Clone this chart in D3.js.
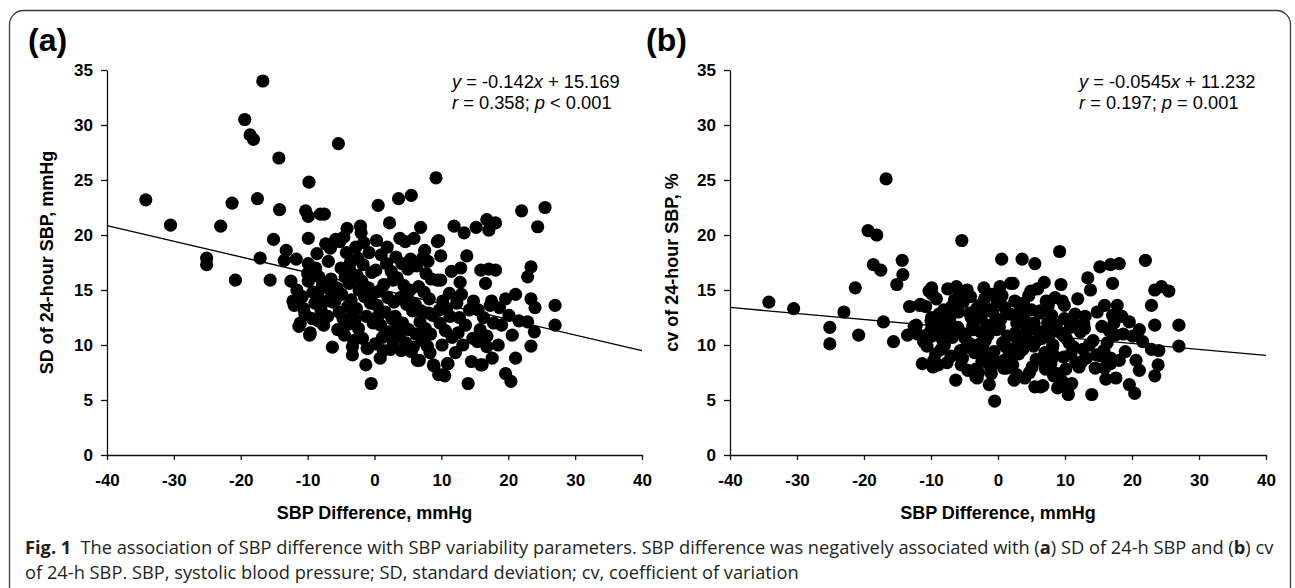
<!DOCTYPE html>
<html>
<head>
<meta charset="utf-8">
<script src="https://cdnjs.cloudflare.com/ajax/libs/d3/7.8.5/d3.min.js"></script>
<style>
  html, body { margin: 0; padding: 0; background: #fff; }
  svg { display: block; }
</style>
</head>
<body>
<svg id="chart" width="1295" height="588"></svg>
<script>
// shared x for both panels (same subjects)
var sbpDiff = [
  -34.2, -30.5, -25.1, -25.1, -23.0, -21.3, -20.8, -19.4, -18.6, -18.1, -17.5, -17.1, -16.7, -15.6, -15.1, -14.3, -14.2, -13.2, -13.5, -12.5, -11.7,
  -12.2, -11.6, -10.8, -10.6, -11.3, -11.1, -9.7, -10.3, -9.9, -9.8, -9.9, -9.9, -10.0, -9.9, -9.3, -9.6, -10.4, -9.2, -12.0, -8.6,
  -8.1, -7.5, -8.8, -8.3, -7.8, -8.5, -7.2, -8.0, -6.9, -7.0, -6.5, -6.6, -6.3, -7.6, -6.8, -8.9, -6.2, -7.3, -6.0, -8.4,
  -5.4, -5.5, -3.3, -3.3, -5.8, -5.2, -4.6, -4.2, -3.6, -5.0, -4.4, -3.8, -5.6, -4.9, -3.5, -4.0, -5.3, -4.7, -3.9, -3.2, -4.5, -3.1, -5.9, -4.1, -3.7,
  -2.1, -2.0, -1.3, -1.0, -0.5, -1.1, -2.8, -2.5, -1.7, -0.8, -2.6, -1.9, -0.4, -2.3, -1.5, -0.6, -2.7, -1.2, -0.2, -2.4, -1.8, -0.9, -0.1, -2.9, -1.6,
  0.55, 2.25, 0.85, 1.3, 2.8, 2.8, 0.3, 1.0, 1.8, 0.2, 2.5, 1.4, 0.7, 2.0, 0.4, 1.6, 2.6, 0.9, 2.2, 1.2, 0.1, 2.9, 1.9, 0.6, 2.4,
  3.6, 5.5, 3.8, 4.6, 5.9, 5.5, 3.2, 4.1, 5.0, 3.4, 4.4, 5.3, 3.9, 4.8, 5.7, 3.1, 4.2, 5.1, 3.7, 4.7, 5.8, 3.3, 4.9, 5.4, 4.0,
  6.9, 6.4, 6.7, 8.9, 8.8, 7.2, 8.0, 6.3, 7.7, 8.5, 6.6, 7.4, 8.2, 6.1, 7.0, 8.7, 6.8, 7.6, 8.4, 7.1, 7.9, 8.3, 6.2, 7.5, 8.1,
  9.2, 9.4, 9.6, 9.9, 9.9, 9.4, 11.9, 11.5, 10.5, 11.0, 9.6, 10.4, 10.9, 10.2, 10.8, 11.3, 9.8, 10.6, 11.6, 10.1, 11.2, 9.7,
  13.4, 13.8, 12.8, 14.0, 14.5, 13.0, 12.3, 14.2, 12.7, 13.6, 12.5, 14.7, 13.2, 12.1, 14.8, 12.9,
  15.2, 16.8, 17.1, 15.9, 17.1, 16.6, 16.1, 15.9, 17.6, 16.8, 16.8, 17.5, 15.5, 16.3, 17.8, 15.8, 17.3, 18.1, 18.1, 15.4,
  22.0, 19.6, 21.1, 19.6, 20.4, 21.1, 20.1, 18.7, 19.0, 20.6, 21.6, 18.5,
  25.5, 24.4, 23.4, 22.9, 23.4, 24.0, 22.9, 23.9, 23.4, 27.0, 27.0
];

// (a) SD of 24-hour SBP, mmHg
var sd24h = [
  23.2, 20.9, 17.9, 17.3, 20.8, 22.9, 15.9, 30.5, 29.1, 28.7, 23.3, 17.9, 34.0, 15.9, 19.6, 27.0, 22.3, 18.6, 17.7, 15.8, 17.8,
  14.0, 15.0, 14.4, 13.3, 11.7, 12.0, 10.9, 22.2, 21.7, 24.8, 19.7, 17.4, 16.5, 15.8, 12.4, 11.1, 12.8, 14.8, 13.6, 18.3,
  21.9, 21.9, 17.0, 16.2, 15.4, 14.6, 14.0, 13.2, 17.6, 12.6, 16.0, 18.8, 9.8, 11.8, 15.1, 13.8, 13.9, 19.2, 14.5, 12.2,
  28.3, 11.4, 9.85, 9.1, 19.6, 19.4, 19.8, 18.4, 17.5, 17.0, 16.2, 15.6, 15.2, 14.6, 14.1, 13.5, 13.0, 12.4, 11.9, 12.8, 10.9, 10.4, 14.0, 20.6, 16.8,
  20.8, 20.2, 8.2, 9.7, 6.5, 9.7, 18.9, 17.9, 17.3, 18.4, 16.3, 15.8, 16.6, 15.0, 14.4, 13.8, 13.3, 12.6, 12.0, 11.5, 10.6, 15.2, 14.7, 12.3, 19.3,
  22.7, 21.1, 8.8, 9.5, 10.2, 15.9, 19.5, 18.2, 17.4, 16.8, 16.7, 15.5, 14.9, 14.3, 13.6, 13.0, 12.4, 11.8, 11.2, 10.7, 10.1, 13.9, 18.9, 12.7, 9.6,
  23.3, 23.6, 19.7, 19.4, 19.7, 9.4, 18.0, 17.4, 16.9, 16.1, 15.4, 15.0, 14.3, 13.7, 13.1, 12.6, 12.0, 11.4, 10.8, 10.2, 9.8, 11.6, 14.6, 17.8, 9.5,
  20.7, 8.6, 8.6, 8.1, 8.2, 17.9, 17.6, 17.2, 16.5, 16.0, 15.3, 14.8, 14.2, 13.7, 13.1, 12.7, 12.1, 11.5, 11.0, 10.4, 9.9, 9.3, 11.0, 18.6, 12.9,
  25.2, 19.4, 19.5, 18.1, 15.9, 15.9, 20.8, 16.7, 7.2, 8.3, 7.3, 7.3, 8.3, 14.0, 13.3, 12.6, 12.0, 11.3, 10.7, 10.0, 14.7, 13.2,
  20.2, 18.1, 15.7, 6.5, 8.5, 14.6, 13.8, 13.2, 12.5, 11.8, 11.1, 10.6, 10.0, 9.3, 14.0, 17.0,
  20.7, 21.4, 20.45, 16.8, 16.9, 15.6, 8.2, 8.2, 8.8, 10.8, 9.85, 14.0, 13.2, 12.5, 12.0, 11.4, 13.6, 21.1, 16.8, 10.3,
  22.2, 14.2, 14.6, 7.4, 6.7, 8.8, 12.7, 13.4, 11.8, 10.9, 12.2, 10.0,
  22.5, 20.75, 17.1, 16.2, 14.2, 13.4, 12.1, 11.2, 9.9, 13.6, 11.8
];

// (b) cv of 24-hour SBP, %
var cv24h = [
  13.9, 13.3, 11.6, 10.1, 13.0, 15.2, 10.9, 20.4, 17.3, 20.0, 16.8, 12.1, 25.1, 10.3, 15.5, 17.7, 16.4, 13.5, 10.9, 11.7, 13.6,
  11.8, 13.7, 13.5, 9.9, 8.3, 10.3, 8.0, 14.9, 15.2, 14.6, 12.5, 11.5, 12.2, 10.8, 9.2, 8.6, 11.0, 14.2, 11.0, 12.0,
  13.2, 15.1, 12.8, 10.5, 11.9, 9.6, 12.3, 10.0, 13.5, 9.0, 14.1, 11.2, 6.8, 8.4, 10.7, 8.2, 15.3, 12.6, 11.6, 11.3,
  19.5, 8.2, 7.8, 7.1, 14.8, 13.9, 15.0, 12.9, 12.1, 11.0, 10.2, 11.7, 9.5, 10.6, 9.3, 12.5, 8.8, 9.8, 10.0, 13.3, 7.7, 7.0, 13.0, 14.4, 11.4,
  15.2, 14.2, 6.4, 7.4, 4.9, 8.0, 13.6, 12.6, 11.8, 13.0, 11.2, 10.4, 12.2, 9.9, 10.9, 9.4, 10.1, 8.9, 11.4, 8.5, 9.1, 14.6, 13.9, 7.5, 13.3,
  17.8, 15.6, 7.9, 7.9, 7.3, 12.0, 15.3, 13.4, 12.8, 11.6, 14.0, 10.8, 10.2, 9.6, 12.3, 9.0, 11.1, 8.6, 8.2, 9.8, 8.4, 10.5, 15.6, 14.5, 6.8,
  17.8, 17.4, 13.8, 14.5, 15.1, 6.2, 12.9, 11.9, 13.2, 10.6, 11.3, 9.9, 12.4, 10.1, 8.7, 9.2, 11.0, 8.0, 9.6, 7.5, 10.4, 13.5, 14.9, 12.0, 7.0,
  15.7, 6.2, 6.3, 6.1, 7.4, 14.0, 12.7, 13.1, 11.5, 14.3, 10.6, 12.0, 10.0, 11.2, 9.3, 11.8, 8.5, 10.8, 9.0, 7.8, 8.3, 7.2, 12.9, 13.6, 9.7,
  18.5, 15.5, 14.0, 13.6, 12.4, 11.1, 14.2, 12.8, 5.5, 6.5, 6.7, 6.0, 9.2, 10.6, 11.6, 9.8, 8.9, 10.2, 8.4, 7.8, 12.0, 10.9,
  16.1, 15.0, 11.9, 5.5, 7.9, 12.6, 11.2, 10.4, 9.6, 10.0, 8.5, 9.1, 8.8, 8.0, 13.0, 11.5,
  17.1, 17.3, 15.6, 13.6, 12.7, 11.3, 6.9, 7.9, 7.0, 8.3, 8.8, 10.9, 11.7, 10.2, 13.6, 9.5, 12.0, 17.4, 8.6, 9.0,
  17.7, 12.1, 11.4, 6.4, 5.6, 7.7, 10.8, 11.0, 9.4, 8.6, 10.3, 12.6,
  14.9, 15.3, 15.0, 13.6, 11.8, 9.5, 9.6, 8.2, 7.2, 11.8, 9.9
];

// fitted lines printed on the figure: [slope, intercept]
var fitA = [-0.142, 15.169];
var fitB = [-0.0545, 11.232];

var xTicks = [-40, -30, -20, -10, 0, 10, 20, 30, 40];
var yTicks = [0, 5, 10, 15, 20, 25, 30, 35];

var svg = d3.select("#chart");

svg.append("rect")
  .attr("width", 1295).attr("height", 588)
  .attr("fill", "#fff");

// rounded figure frame
svg.append("rect")
  .attr("x", 9.5).attr("y", 10.5)
  .attr("width", 1281).attr("height", 620)
  .attr("rx", 14)
  .attr("fill", "none")
  .attr("stroke", "#3a3a3a")
  .attr("stroke-width", 1.3);

var panels = [
  { tag: "(a)", tagX: 28, left: 107, right: 642, ylab: "SD of 24-hour SBP, mmHg", ylabX: 53,
    ys: sd24h, fit: fitA, eq: ["-0.142", "15.169"], stat: ["0.358", "<", "0.001"], eqX: 452 },
  { tag: "(b)", tagX: 646, left: 730, right: 1266, ylab: "cv of 24-hour SBP, %", ylabX: 678,
    ys: cv24h, fit: fitB, eq: ["-0.0545", "11.232"], stat: ["0.197", "=", "0.001"], eqX: 1079 }
];

var plotTop = 70, plotBottom = 455;

// plain hyphen minus, as in the figure
function tickText(d) { return String(d); }

panels.forEach(function (p) {

  var x = d3.scaleLinear().domain([-40, 40]).range([p.left, p.right]);
  var y = d3.scaleLinear().domain([0, 35]).range([plotBottom, plotTop]);

  var g = svg.append("g").attr("font-family", "'Liberation Sans', Arial, sans-serif");

  // panel tag
  g.append("text")
    .attr("x", p.tagX).attr("y", 51)
    .attr("font-size", 32).attr("font-weight", "bold")
    .text(p.tag);

  // points
  g.append("g")
    .selectAll("circle")
    .data(sbpDiff)
    .enter().append("circle")
    .attr("cx", function (d) { return x(d); })
    .attr("cy", function (d, i) { return y(p.ys[i]); })
    .attr("r", 6.6)
    .attr("fill", "#000");

  // regression line
  g.append("line")
    .attr("x1", x(-40)).attr("y1", y(p.fit[0] * -40 + p.fit[1]))
    .attr("x2", x(40)).attr("y2", y(p.fit[0] * 40 + p.fit[1]))
    .attr("stroke", "#000")
    .attr("stroke-width", 1.3);

  // axes
  var xAxis = g.append("g")
    .attr("transform", "translate(0," + plotBottom + ")")
    .call(d3.axisBottom(x).tickValues(xTicks).tickFormat(tickText).tickSize(5).tickSizeOuter(0).tickPadding(14));

  var yAxis = g.append("g")
    .attr("transform", "translate(" + p.left + ",0)")
    .call(d3.axisLeft(y).tickValues(yTicks).tickFormat(tickText).tickSize(6).tickSizeOuter(0).tickPadding(8));

  [xAxis, yAxis].forEach(function (a) {
    a.selectAll("path, line").attr("stroke", "#111").attr("stroke-width", 1.3);
    a.selectAll("text")
      .attr("font-family", "'Liberation Sans', Arial, sans-serif")
      .attr("font-size", 17).attr("font-weight", "bold").attr("fill", "#000");
  });

  // axis titles
  g.append("text")
    .attr("x", (p.left + p.right) / 2).attr("y", 519)
    .attr("text-anchor", "middle")
    .attr("font-size", 18).attr("font-weight", "bold")
    .text("SBP Difference, mmHg");

  g.append("text")
    .attr("transform", "translate(" + p.ylabX + "," + ((plotTop + plotBottom) / 2) + ") rotate(-90)")
    .attr("text-anchor", "middle")
    .attr("font-size", 18).attr("font-weight", "bold")
    .text(p.ylab);

  // equation
  var e1 = g.append("text").attr("x", p.eqX).attr("y", 88).attr("font-size", 18.3);
  e1.append("tspan").attr("font-style", "italic").text("y");
  e1.append("tspan").text(" = " + p.eq[0]);
  e1.append("tspan").attr("font-style", "italic").text("x");
  e1.append("tspan").text(" + " + p.eq[1]);

  var e2 = g.append("text").attr("x", p.eqX).attr("y", 109).attr("font-size", 18.3);
  e2.append("tspan").attr("font-style", "italic").text("r");
  e2.append("tspan").text(" = " + p.stat[0] + "; ");
  e2.append("tspan").attr("font-style", "italic").text("p");
  e2.append("tspan").text(" " + p.stat[1] + " " + p.stat[2]);
});

// caption
var cap = svg.append("g").attr("font-family", "'Open Sans', 'Noto Sans', sans-serif").attr("fill", "#231f20");

var line1 = cap.append("text").attr("x", 25).attr("y", 554).attr("font-size", 16);
line1.append("tspan").attr("font-weight", "bold").text("Fig. 1");
line1.append("tspan").text("\u2002The association of SBP difference with SBP variability parameters. SBP difference was negatively associated with (");
line1.append("tspan").attr("font-weight", "bold").text("a");
line1.append("tspan").text(") SD of 24-h SBP and (");
line1.append("tspan").attr("font-weight", "bold").text("b");
line1.append("tspan").text(") cv");

var line2 = cap.append("text").attr("x", 25).attr("y", 579).attr("font-size", 16)
  .text("of 24-h SBP. SBP, systolic blood pressure; SD, standard deviation; cv, coefficient of variation");

// fit caption line 1 to the width it has in the figure
var want = 1249;
var got = line1.node().getComputedTextLength();
var fs = 16 * want / got;
line1.attr("font-size", fs);
line2.attr("font-size", fs);
</script>
</body>
</html>
